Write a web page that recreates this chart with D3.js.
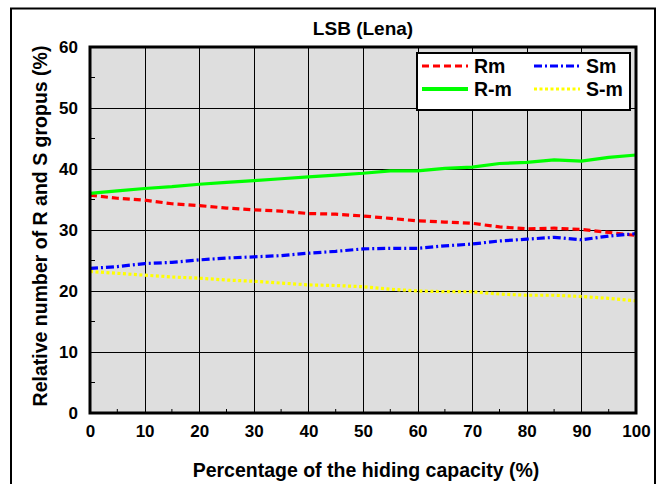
<!DOCTYPE html>
<html><head><meta charset="utf-8">
<script src="https://cdn.jsdelivr.net/npm/d3@7"></script>
<style>body{margin:0;background:#fff;}svg{display:block;font-family:"Liberation Sans",Arial,sans-serif;font-weight:bold;}</style>
</head><body><svg id="c" width="664" height="484"></svg>
<script>
const capacity = [0,5,10,15,20,25,30,35,40,45,50,55,60,65,70,75,80,85,90,95,100];
const Rm  = [35.7,35.2,34.9,34.3,34.0,33.6,33.3,33.1,32.7,32.6,32.3,31.9,31.5,31.3,31.1,30.5,30.2,30.3,30.1,29.6,29.1];
const Rmm = [36.0,36.4,36.8,37.1,37.5,37.8,38.1,38.4,38.7,39.0,39.3,39.7,39.7,40.1,40.3,40.9,41.1,41.5,41.3,41.9,42.3];
const Sm  = [23.7,24.0,24.5,24.7,25.1,25.4,25.6,25.8,26.2,26.5,26.9,27.0,27.0,27.4,27.7,28.2,28.5,28.8,28.4,29.0,29.4];
const Smm = [23.2,22.9,22.6,22.3,22.1,21.8,21.6,21.3,21.0,20.9,20.7,20.3,20.0,19.9,19.9,19.5,19.3,19.3,19.1,18.8,18.4];
const xTicks = [0,10,20,30,40,50,60,70,80,90,100];
const yTicks = [0,10,20,30,40,50,60];
const seriesNames = ["Rm","R-m","Sm","S-m"];
const seriesColors = ["#ff0000","#00ff00","#0000ff","#ffff00"];
const seriesDash = ["7,4","","8,3,2,3","3,2.5"];
const seriesData = [Rm,Rmm,Sm,Smm];

const svg = d3.select("#c");
const L=90,R=636,T=47,B=413;
const x = d3.scaleLinear().domain([0,100]).range([L,R]);
const y = d3.scaleLinear().domain([0,60]).range([B,T]);

// outer frame
svg.append("rect").attr("x",11).attr("y",8.5).attr("width",644).attr("height",490)
  .attr("fill","none").attr("stroke","#000").attr("stroke-width",2);

// title
svg.append("text").attr("x",363).attr("y",35).attr("text-anchor","middle")
  .attr("font-size",19).text("LSB (Lena)");

// plot background
svg.append("rect").attr("x",L).attr("y",T).attr("width",R-L).attr("height",B-T).attr("fill","#dedede");

// grid
svg.append("g").selectAll("line").data(xTicks.slice(1,-1)).join("line")
  .attr("x1",d=>Math.round(x(d))+0.5).attr("x2",d=>Math.round(x(d))+0.5).attr("y1",T).attr("y2",B)
  .attr("stroke","#000").attr("stroke-width",1);
svg.append("g").selectAll("line").data(yTicks.slice(1,-1)).join("line")
  .attr("y1",d=>Math.round(y(d))+0.5).attr("y2",d=>Math.round(y(d))+0.5).attr("x1",L).attr("x2",R)
  .attr("stroke","#000").attr("stroke-width",1);

// minor ticks
const minorX = d3.range(5,100,10), minorY = d3.range(5,60,10);
svg.append("g").selectAll("line").data(minorX).join("line")
  .attr("x1",d=>x(d)).attr("x2",d=>x(d)).attr("y1",B).attr("y2",B-4).attr("stroke","#000");
svg.append("g").selectAll("line").data(minorY).join("line")
  .attr("y1",d=>y(d)).attr("y2",d=>y(d)).attr("x1",L).attr("x2",L+5).attr("stroke","#000");

// series
const line = d3.line().x((d,i)=>x(capacity[i])).y(d=>y(d));
seriesData.forEach((s,k)=>{
  svg.append("path").datum(s).attr("d",line).attr("fill","none")
    .attr("stroke",seriesColors[k]).attr("stroke-width",3.2)
    .attr("stroke-dasharray",seriesDash[k]||null);
});

// plot border
svg.append("rect").attr("x",L).attr("y",T).attr("width",R-L).attr("height",B-T)
  .attr("fill","none").attr("stroke","#000").attr("stroke-width",3);

// axes labels
const xAxis = d3.axisBottom(x).tickValues(xTicks).tickSize(0).tickPadding(12);
const gx = svg.append("g").attr("transform",`translate(0,${B})`).call(xAxis);
gx.select(".domain").remove();
gx.selectAll("text").attr("font-size",17).attr("font-family","Liberation Sans, Arial, sans-serif").attr("font-weight","bold").attr("fill","#000");
const yAxis = d3.axisLeft(y).tickValues(yTicks).tickSize(0).tickPadding(12);
const gy = svg.append("g").attr("transform",`translate(${L},0)`).call(yAxis);
gy.select(".domain").remove();
gy.selectAll("text").attr("font-size",17).attr("font-family","Liberation Sans, Arial, sans-serif").attr("font-weight","bold").attr("fill","#000");

svg.append("text").attr("x",366).attr("y",477).attr("text-anchor","middle")
  .attr("font-size",19.5).text("Percentage of the hiding capacity (%)");
svg.append("text").attr("transform","translate(47,226) rotate(-90)").attr("text-anchor","middle")
  .attr("font-size",19.5).text("Relative number of R and S gropus (%)");

// legend
const lg = svg.append("g");
lg.append("rect").attr("x",417).attr("y",53).attr("width",213).attr("height",57)
  .attr("fill","#fff").attr("stroke","#000").attr("stroke-width",2);
const legPos = [[422,66],[422,89],[534,66],[534,89]];
seriesNames.forEach((n,k)=>{
  const [lx,ly]=legPos[k];
  lg.append("line").attr("x1",lx).attr("x2",lx+46).attr("y1",ly).attr("y2",ly)
    .attr("stroke",seriesColors[k]).attr("stroke-width",k===1?4:3)
    .attr("stroke-dasharray",seriesDash[k]||null);
  lg.append("text").attr("x",lx+52).attr("y",ly+7).attr("font-size",19.5).text(n);
});
</script></body></html>
